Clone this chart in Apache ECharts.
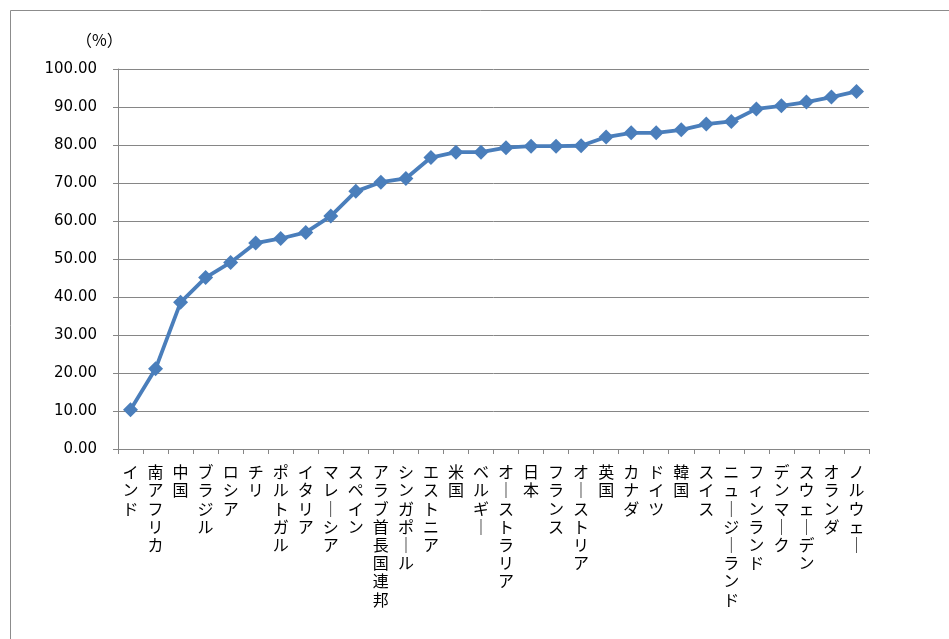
<!DOCTYPE html>
<html>
<head>
<meta charset="utf-8">
<script src="https://cdn.jsdelivr.net/npm/echarts@6/dist/echarts.min.js"></script>
<style>
  html, body { margin: 0; padding: 0; background: #fff; }
  #chart { width: 949px; height: 639px; }
</style>
</head>
<body>
<div id="chart"></div>
<script>
// Countries, ordered from lowest to highest share (%)
var countries = [
  'インド', '南アフリカ', '中国', 'ブラジル', 'ロシア', 'チリ', 'ポルトガル', 'イタリア',
  'マレーシア', 'スペイン', 'アラブ首長国連邦', 'シンガポール', 'エストニア', '米国',
  'ベルギー', 'オーストラリア', '日本', 'フランス', 'オーストリア', '英国', 'カナダ',
  'ドイツ', '韓国', 'スイス', 'ニュージーランド', 'フィンランド', 'デンマーク',
  'スウェーデン', 'オランダ', 'ノルウェー'
];
var shares = [
  10.3, 21.1, 38.6, 45.1, 49.1, 54.2, 55.4, 57.0,
  61.3, 67.8, 70.2, 71.2, 76.7, 78.1,
  78.1, 79.3, 79.7, 79.7, 79.8, 82.1, 83.2,
  83.2, 84.0, 85.5, 86.2, 89.5, 90.3,
  91.3, 92.6, 94.1
];
var unitLabel = '（%）';

// Vertical label: one character per line, long-vowel mark drawn upright
function verticalText(name) {
  return name.split('').map(function (c) { return c === 'ー' ? '｜' : c; }).join('\n');
}

var chart = echarts.init(document.getElementById('chart'), null, { renderer: 'canvas' });
chart.setOption({
  animation: false,
  backgroundColor: '#ffffff',
  grid: { left: 118, right: 80, top: 69, bottom: 190, containLabel: false },
  graphic: [
    {
      type: 'rect', left: 8, top: 8, silent: true,
      shape: { width: 1000, height: 700 },
      style: { fill: 'none', stroke: '#8c8c8c', lineWidth: 1 }
    },
    {
      type: 'text', left: 76, top: 32, silent: true,
      style: {
        text: unitLabel,
        fontFamily: 'Noto Sans CJK JP',
        fontSize: 16,
        fill: '#000'
      }
    }
  ],
  xAxis: {
    type: 'category',
    data: countries,
    boundaryGap: true,
    axisLine: { lineStyle: { color: '#868686', width: 1 } },
    axisTick: { show: true, length: 5, lineStyle: { color: '#868686' }, alignWithLabel: false },
    axisLabel: {
      interval: 0,
      margin: 14,
      verticalAlign: 'top',
      align: 'center',
      color: '#000',
      fontFamily: 'Noto Sans CJK JP',
      fontSize: 16,
      lineHeight: 18.2,
      formatter: verticalText
    },
    splitLine: { show: false }
  },
  yAxis: {
    type: 'value',
    min: 0, max: 100, interval: 10,
    axisLine: { show: true, lineStyle: { color: '#868686', width: 1 } },
    axisTick: { show: true, length: 5, lineStyle: { color: '#868686' } },
    axisLabel: {
      margin: 21,
      color: '#000',
      fontFamily: 'DejaVu Sans',
      fontSize: 15,
      formatter: function (v) { return v.toFixed(2); }
    },
    splitLine: { show: true, lineStyle: { color: '#868686', width: 1 } }
  },
  series: [{
    type: 'line',
    data: shares,
    symbol: 'diamond',
    symbolSize: 15,
    itemStyle: { color: '#4a7ebb' },
    lineStyle: { color: '#4a7ebb', width: 3.8 },
    emphasis: { disabled: true }
  }]
});
</script>
</body>
</html>
